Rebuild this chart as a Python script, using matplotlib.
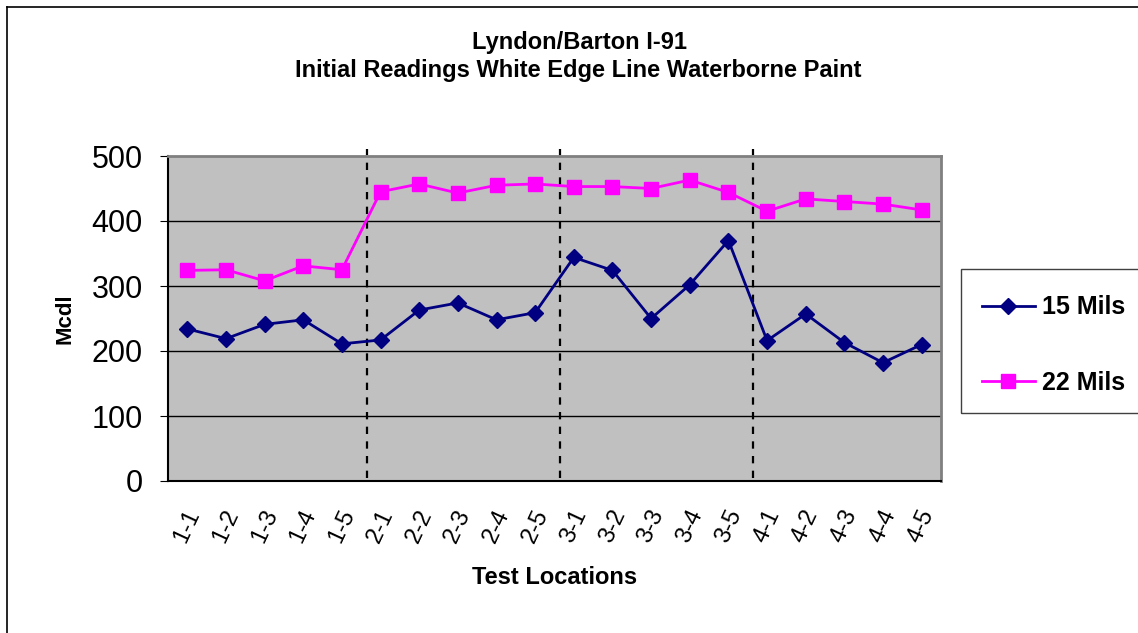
import numpy as np
import matplotlib
matplotlib.use("Agg")
import matplotlib.pyplot as plt
from matplotlib.patches import Rectangle
from matplotlib.lines import Line2D

plt.rcParams['font.family'] = ['Liberation Sans', 'DejaVu Sans']

# data
locations = ['1-1', '1-2', '1-3', '1-4', '1-5',
             '2-1', '2-2', '2-3', '2-4', '2-5',
             '3-1', '3-2', '3-3', '3-4', '3-5',
             '4-1', '4-2', '4-3', '4-4', '4-5']
mils15 = [234, 219, 241, 248, 211, 217, 263, 274, 248, 259,
          344, 324, 250, 302, 370, 216, 257, 213, 182, 210]
mils22 = [324, 325, 308, 331, 325, 445, 457, 443, 455, 457,
          453, 453, 450, 463, 444, 415, 434, 430, 426, 417]
group_breaks = [4.64, 9.64, 14.64]
y_ticks = [0, 100, 200, 300, 400, 500]

W, H = 1138, 633
fig = plt.figure(figsize=(W / 100, H / 100), dpi=100)
ax = fig.add_axes([168 / W, 1 - 481 / H, (941 - 168) / W, (481 - 156) / H])

x = np.arange(len(locations))
ax.set_facecolor('#C0C0C0')
for y in y_ticks[1:-1]:
    ax.axhline(y, color='black', lw=1, zorder=1)

for b in group_breaks:
    ax.vlines(b, 4.5, 511, colors='black', linestyles=(0, (3.3, 3.3)), lw=1.6,
              clip_on=False, zorder=2)

ax.plot(x, mils15, color='#000080', lw=2, marker='D', ms=8, label='15 Mils', zorder=3)
ax.plot(x, mils22, color='#FF00FF', lw=2, marker='s', ms=9.5, label='22 Mils', zorder=3)

ax.set_xlim(-0.5, len(locations) - 0.5)
ax.set_ylim(0, 500)
ax.set_yticks(y_ticks)
ax.set_yticklabels([str(v) for v in y_ticks], fontsize=22)
ax.set_xticks(x)
ax.set_xticklabels(locations, fontsize=17, rotation=65, ha='center', va='top')
ax.tick_params(axis='x', length=0, pad=18)
ax.tick_params(axis='y', length=6, direction='out', pad=12)

for s in ['top', 'right']:
    ax.spines[s].set_color('#808080')
    ax.spines[s].set_linewidth(2)
for s in ['left', 'bottom']:
    ax.spines[s].set_color('black')
    ax.spines[s].set_linewidth(1.5)

ax.set_ylabel('Mcdl', fontsize=16, fontweight='bold', labelpad=12)
ax.set_xlabel('Test Locations', fontsize=17, fontweight='bold', labelpad=14)

fig.text(579 / W, 1 - 42 / H, 'Lyndon/Barton I-91', ha='center', va='center',
         fontsize=17, fontweight='bold')
fig.text(578 / W, 1 - 71 / H, 'Initial Readings White Edge Line Waterborne Paint',
         ha='center', va='center', fontsize=17, fontweight='bold')

# outer frame (left and top only visible)
fig.add_artist(Line2D([7 / W, 7 / W], [0, 1 - 7 / H], color='black', lw=1.2))
fig.add_artist(Line2D([7 / W, 1], [1 - 7 / H, 1 - 7 / H], color='black', lw=1.2))

# legend box
fig.add_artist(Rectangle((961 / W, 1 - 413 / H), (1145 - 961) / W, (413 - 269) / H,
                         transform=fig.transFigure, fill=False, ec='#404040', lw=1))
handles, labels = ax.get_legend_handles_labels()
fig.legend(handles, labels, loc='center left', bbox_to_anchor=(959 / W, 1 - 345 / H),
           frameon=False, prop={'size': 18, 'weight': 'bold'}, labelspacing=2.05,
           handlelength=2.15, handletextpad=0.28)

fig.savefig('out.png', dpi=100)
